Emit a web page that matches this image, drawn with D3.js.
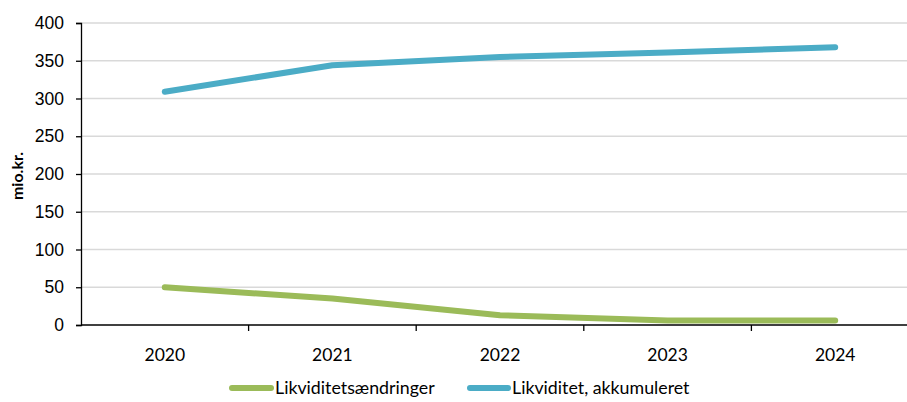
<!DOCTYPE html>
<html><head><meta charset="utf-8">
<script src="https://cdn.jsdelivr.net/npm/d3@7"></script>
<style>body{margin:0;background:#fff;}svg{display:block;font-family:Lato,"Open Sans",sans-serif;}</style>
</head><body>
<svg id="c" width="907" height="402"></svg>
<script>
const years = ["2020","2021","2022","2023","2024"];
const likvAendr = [50, 35, 13, 6, 6];
const likvAkk = [309, 344, 355, 361, 368];
const yTicks = [0,50,100,150,200,250,300,350,400];
const seriesNames = ["Likviditetsændringer","Likviditet, akkumuleret"];
const colors = ["#9BBB59","#4BACC6"];

const svg = d3.select("#c");
const x = d3.scaleBand().domain(years).range([81, 919]);
const y = d3.scaleLinear().domain([0,400]).range([325, 23]);

// gridlines
svg.append("g").selectAll("line").data(yTicks.filter(d=>d>0)).join("line")
  .attr("x1",81).attr("x2",919).attr("y1",d=>y(d)).attr("y2",d=>y(d))
  .attr("stroke","#d9d9d9").attr("stroke-width",1.3);

// y axis
const ya = svg.append("g").attr("transform","translate(81,0)")
  .call(d3.axisLeft(y).tickValues(yTicks).tickSize(5).tickPadding(12));
ya.select(".domain").attr("stroke","#000").attr("stroke-width",1.3);
ya.selectAll(".tick line").attr("stroke","#000").attr("stroke-width",1.3);
ya.selectAll("text").attr("font-size",17.5).attr("fill","#000");

// x axis
const xa = svg.append("g").attr("transform","translate(0,325)");
xa.append("line").attr("x1",81).attr("x2",919).attr("stroke","#000").attr("stroke-width",1.3);
xa.selectAll(".tk").data(years.slice(1)).join("line")
  .attr("x1",d=>x(d)).attr("x2",d=>x(d)).attr("y1",0).attr("y2",6)
  .attr("stroke","#000").attr("stroke-width",1.3);
xa.selectAll("text").data(years).join("text")
  .attr("x",d=>x(d)+x.bandwidth()/2).attr("y",36)
  .attr("text-anchor","middle").attr("font-size",17.5).attr("fill","#000").text(d=>d);

// y label
svg.append("text").attr("transform","translate(23,176) rotate(-90)")
  .attr("text-anchor","middle").attr("font-size",16).attr("font-weight","bold").text("mio.kr.");

// lines
const line = d3.line().x((d,i)=>x(years[i])+x.bandwidth()/2).y(d=>y(d));
[likvAendr, likvAkk].forEach((s,i)=>{
  svg.append("path").datum(s).attr("d",line).attr("fill","none")
    .attr("stroke",colors[i]).attr("stroke-width",6).attr("stroke-linecap","round").attr("stroke-linejoin","round");
});

// legend
const lg = [{x:232, tx:275},{x:470, tx:512}];
seriesNames.forEach((n,i)=>{
  svg.append("line").attr("x1",lg[i].x).attr("x2",lg[i].tx-4).attr("y1",388).attr("y2",388)
    .attr("stroke",colors[i]).attr("stroke-width",6).attr("stroke-linecap","round");
  svg.append("text").attr("x",lg[i].tx).attr("y",394).attr("font-size",17.8).attr("fill","#000").text(n);
});
</script>
</body></html>
